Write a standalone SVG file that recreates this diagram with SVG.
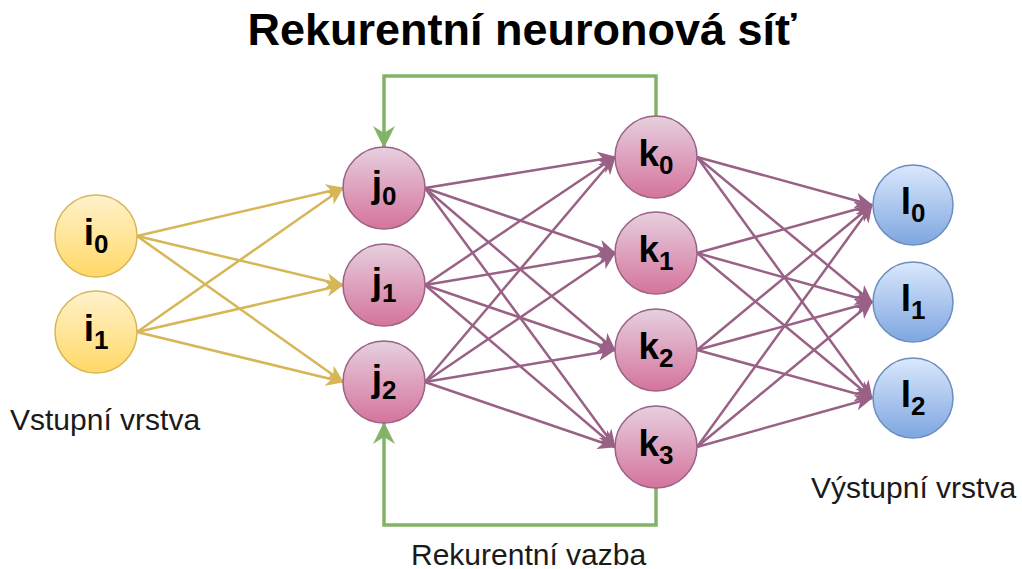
<svg xmlns="http://www.w3.org/2000/svg" width="1022" height="569" viewBox="0 0 1022 569">
  <style>
    .lbl { font-family: "Liberation Sans", Arial, sans-serif; font-size: 37px; font-weight: bold; fill: #000; text-anchor: middle; }
    .sub { font-size: 26px; }
    .cap { font-family: "Liberation Sans", Arial, sans-serif; font-size: 30px; fill: #1a1a1a; }
    .title { font-family: "Liberation Sans", Arial, sans-serif; font-size: 45px; font-weight: bold; fill: #000; text-anchor: middle; }
    .in { fill: url(#gYellow); stroke: #d6b656; stroke-width: 1.5; }
    .hid { fill: url(#gPink); stroke: #996185; stroke-width: 1.5; }
    .out { fill: url(#gBlue); stroke: #6c8ebf; stroke-width: 1.5; }
    .ey { stroke: #d6b656; stroke-width: 2.5; fill: none; marker-end: url(#arrY); }
    .ep { stroke: #996185; stroke-width: 2.5; fill: none; marker-end: url(#arrP); }
    .eg { stroke: #82b366; stroke-width: 3.5; fill: none; marker-end: url(#arrG); }
  </style>
  <defs>
    <linearGradient id="gYellow" x1="0" y1="0" x2="0" y2="1">
      <stop offset="0" stop-color="#fff2cc"/>
      <stop offset="1" stop-color="#ffd966"/>
    </linearGradient>
    <linearGradient id="gPink" x1="0" y1="0" x2="0" y2="1">
      <stop offset="0" stop-color="#e6d0de"/>
      <stop offset="1" stop-color="#d5739d"/>
    </linearGradient>
    <linearGradient id="gBlue" x1="0" y1="0" x2="0" y2="1">
      <stop offset="0" stop-color="#dae8fc"/>
      <stop offset="1" stop-color="#7ea6e0"/>
    </linearGradient>
    <marker id="arrY" markerUnits="userSpaceOnUse" viewBox="0 0 18 16" refX="17" refY="8" markerWidth="18" markerHeight="16" orient="auto">
      <path d="M18,8 L0,0 L5,8 L0,16 Z" fill="#d6b656"/>
    </marker>
    <marker id="arrP" markerUnits="userSpaceOnUse" viewBox="0 0 18 16" refX="17" refY="8" markerWidth="18" markerHeight="16" orient="auto">
      <path d="M18,8 L0,0 L5,8 L0,16 Z" fill="#996185"/>
    </marker>
    <marker id="arrG" markerUnits="userSpaceOnUse" viewBox="0 0 22 22" refX="21" refY="11" markerWidth="22" markerHeight="22" orient="auto">
      <path d="M22,11 L0,0 L7,11 L0,22 Z" fill="#82b366"/>
    </marker>
  </defs>

  <text class="title" x="522" y="45">Rekurentní neuronová síť</text>

  <!-- connectors -->
  <g id="connectors">
    <!-- input layer to hidden layer j -->
    <path class="ey" d="M137,236 L343,188"/>
    <path class="ey" d="M137,236 L343,285"/>
    <path class="ey" d="M137,236 L343,382"/>
    <path class="ey" d="M137,332 L343,188"/>
    <path class="ey" d="M137,332 L343,285"/>
    <path class="ey" d="M137,332 L343,382"/>
    <!-- hidden j to hidden k -->
    <path class="ep" d="M425,188 L615,157"/>
    <path class="ep" d="M425,188 L615,253"/>
    <path class="ep" d="M425,188 L615,350"/>
    <path class="ep" d="M425,188 L615,447"/>
    <path class="ep" d="M425,285 L615,157"/>
    <path class="ep" d="M425,285 L615,253"/>
    <path class="ep" d="M425,285 L615,350"/>
    <path class="ep" d="M425,285 L615,447"/>
    <path class="ep" d="M425,382 L615,157"/>
    <path class="ep" d="M425,382 L615,253"/>
    <path class="ep" d="M425,382 L615,350"/>
    <path class="ep" d="M425,382 L615,447"/>
    <!-- hidden k to output layer -->
    <path class="ep" d="M697,157 L872,205"/>
    <path class="ep" d="M697,157 L872,302"/>
    <path class="ep" d="M697,157 L872,398"/>
    <path class="ep" d="M697,253 L872,205"/>
    <path class="ep" d="M697,253 L872,302"/>
    <path class="ep" d="M697,253 L872,398"/>
    <path class="ep" d="M697,350 L872,205"/>
    <path class="ep" d="M697,350 L872,302"/>
    <path class="ep" d="M697,350 L872,398"/>
    <path class="ep" d="M697,447 L872,205"/>
    <path class="ep" d="M697,447 L872,302"/>
    <path class="ep" d="M697,447 L872,398"/>
    <!-- recurrent feedback -->
    <path class="eg" d="M656,116 V76 H384 V147"/>
    <path class="eg" d="M656,488 V525 H384 V423"/>
  </g>

  <!-- input layer -->
  <g id="i0"><circle class="in" cx="96" cy="236" r="41"/><text class="lbl" x="96" y="245">i<tspan class="sub" dy="8">0</tspan></text></g>
  <g id="i1"><circle class="in" cx="96" cy="332" r="41"/><text class="lbl" x="96" y="341">i<tspan class="sub" dy="8">1</tspan></text></g>

  <!-- hidden layer j -->
  <g id="j0"><circle class="hid" cx="384" cy="188" r="41"/><text class="lbl" x="384" y="197">j<tspan class="sub" dy="8">0</tspan></text></g>
  <g id="j1"><circle class="hid" cx="384" cy="285" r="41"/><text class="lbl" x="384" y="294">j<tspan class="sub" dy="8">1</tspan></text></g>
  <g id="j2"><circle class="hid" cx="384" cy="382" r="41"/><text class="lbl" x="384" y="391">j<tspan class="sub" dy="8">2</tspan></text></g>

  <!-- hidden layer k -->
  <g id="k0"><circle class="hid" cx="656" cy="157" r="41"/><text class="lbl" x="656" y="166">k<tspan class="sub" dy="8">0</tspan></text></g>
  <g id="k1"><circle class="hid" cx="656" cy="253" r="41"/><text class="lbl" x="656" y="262">k<tspan class="sub" dy="8">1</tspan></text></g>
  <g id="k2"><circle class="hid" cx="656" cy="350" r="41"/><text class="lbl" x="656" y="359">k<tspan class="sub" dy="8">2</tspan></text></g>
  <g id="k3"><circle class="hid" cx="656" cy="447" r="41"/><text class="lbl" x="656" y="456">k<tspan class="sub" dy="8">3</tspan></text></g>

  <!-- output layer -->
  <g id="l0"><circle class="out" cx="913" cy="205" r="40"/><text class="lbl" x="913" y="214">l<tspan class="sub" dy="8">0</tspan></text></g>
  <g id="l1"><circle class="out" cx="913" cy="302" r="40"/><text class="lbl" x="913" y="311">l<tspan class="sub" dy="8">1</tspan></text></g>
  <g id="l2"><circle class="out" cx="913" cy="398" r="40"/><text class="lbl" x="913" y="407">l<tspan class="sub" dy="8">2</tspan></text></g>

  <!-- captions -->
  <text class="cap" x="10" y="430">Vstupní vrstva</text>
  <text class="cap" x="811" y="498">Výstupní vrstva</text>
  <text class="cap" x="411" y="565">Rekurentní vazba</text>
</svg>
